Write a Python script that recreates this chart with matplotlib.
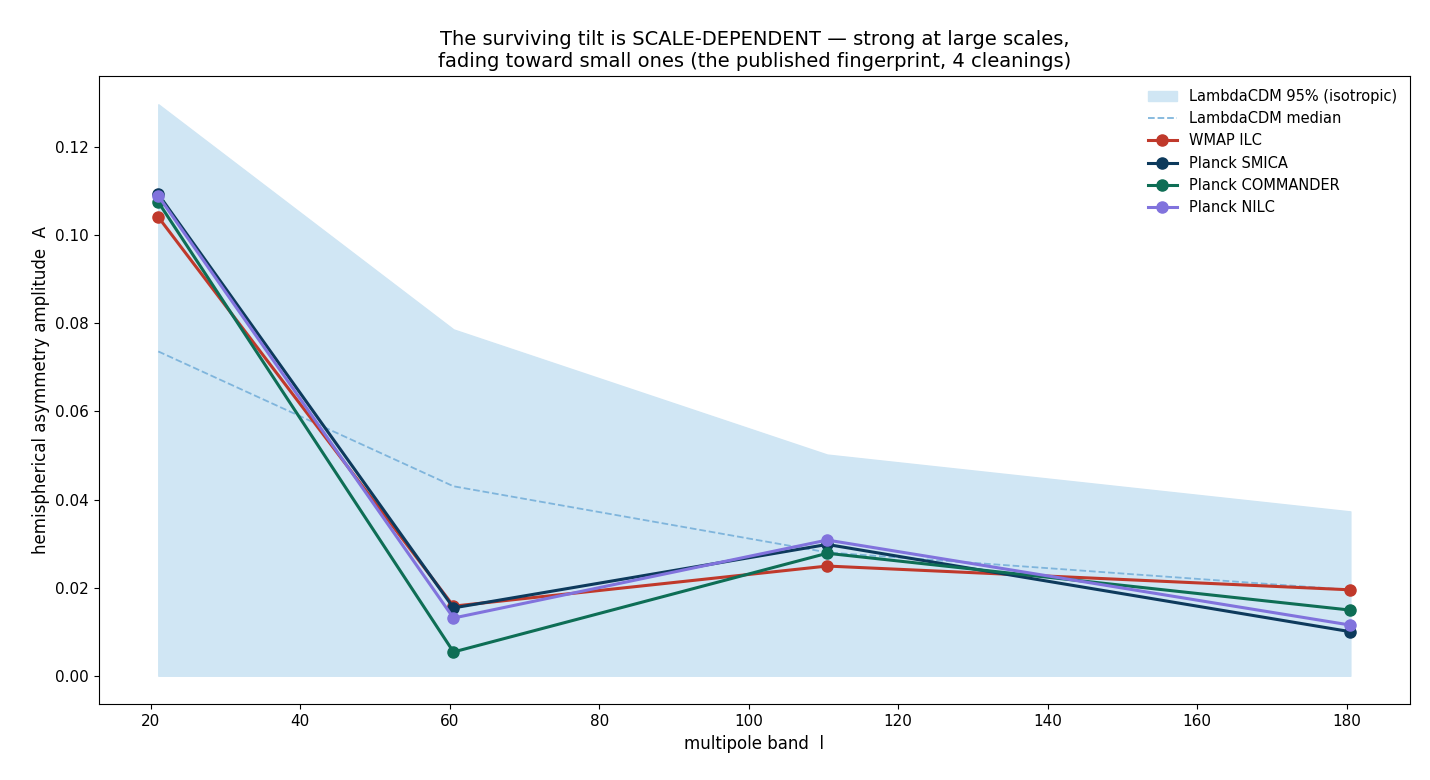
import matplotlib
matplotlib.use("Agg")
import matplotlib.pyplot as plt

ell = [21, 60.5, 110.5, 180.5]
band_hi = [0.1297, 0.0786, 0.0502, 0.0373]
band_lo = [0.0, 0.0, 0.0, 0.0]
median = [0.0736, 0.0430, 0.0280, 0.0195]
wmap = [0.1041, 0.0158, 0.0249, 0.0195]
smica = [0.1093, 0.0154, 0.0298, 0.0100]
commander = [0.1075, 0.0054, 0.0278, 0.0149]
nilc = [0.1089, 0.0131, 0.0308, 0.0115]

fig, ax = plt.subplots(figsize=(14.3, 7.8), dpi=100)
ax.fill_between(ell, band_lo, band_hi, color="#d0e6f4", label="LambdaCDM 95% (isotropic)")
ax.plot(ell, median, "--", color="#7fb5dc", lw=1.3, label="LambdaCDM median")
for vals, c, lab in [(wmap, "#c0392b", "WMAP ILC"), (smica, "#0d3a5c", "Planck SMICA"),
                     (commander, "#0e6e55", "Planck COMMANDER"), (nilc, "#8173dd", "Planck NILC")]:
    ax.plot(ell, vals, "-o", color=c, lw=2.2, ms=8, label=lab)
ax.set_xlabel("multipole band  l", fontsize=12)
ax.set_ylabel("hemispherical asymmetry amplitude  A", fontsize=12)
ax.set_title("The surviving tilt is SCALE-DEPENDENT — strong at large scales,\nfading toward small ones (the published fingerprint, 4 cleanings)", fontsize=14)
ax.tick_params(labelsize=11)
ax.legend(frameon=False, fontsize=10.5, loc="upper right")
fig.subplots_adjust(left=0.069, right=0.986, top=0.903, bottom=0.097)
fig.savefig("out.png")
